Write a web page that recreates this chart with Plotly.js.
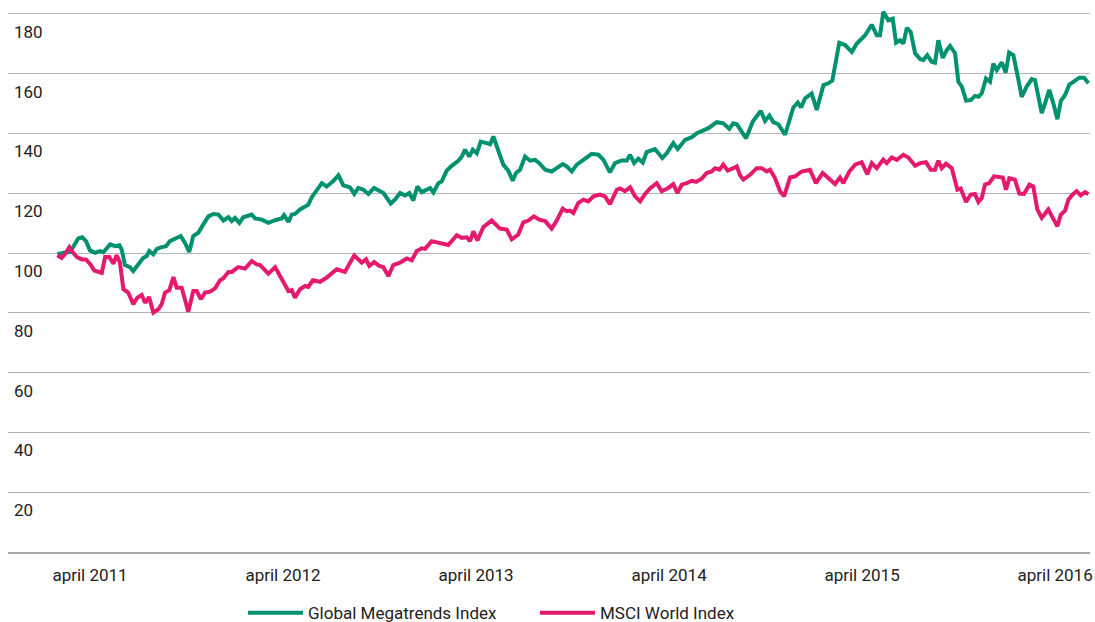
<!DOCTYPE html>
<html>
<head>
<meta charset="utf-8">
<script src="https://cdn.plot.ly/plotly-3.0.1.min.js"></script>
<style>
  html, body { margin: 0; padding: 0; background: #fff; }
  #chart { width: 1095px; height: 622px; }
</style>
</head>
<body>
<div id="chart"></div>
<script>
// Time expressed as decimal years (april 2011 = 2011.25)
const globalT = [2011.081,2011.112,2011.146,2011.172,2011.189,2011.210,2011.229,2011.250,2011.276,2011.302,2011.319,2011.354,2011.380,2011.402,2011.414,2011.431,2011.457,2011.474,2011.500,2011.526,2011.544,2011.557,2011.578,2011.596,2011.621,2011.644,2011.664,2011.696,2011.720,2011.742,2011.764,2011.785,2011.811,2011.837,2011.863,2011.889,2011.915,2011.941,2011.967,2011.984,2012.001,2012.024,2012.044,2012.088,2012.105,2012.140,2012.174,2012.209,2012.243,2012.255,2012.278,2012.295,2012.312,2012.338,2012.381,2012.399,2012.416,2012.451,2012.476,2012.509,2012.537,2012.562,2012.597,2012.619,2012.640,2012.666,2012.692,2012.722,2012.770,2012.808,2012.830,2012.856,2012.882,2012.904,2012.925,2012.946,2012.969,2012.995,2013.012,2013.029,2013.055,2013.072,2013.098,2013.124,2013.158,2013.176,2013.193,2013.215,2013.233,2013.254,2013.274,2013.305,2013.323,2013.340,2013.366,2013.391,2013.417,2013.440,2013.457,2013.478,2013.504,2013.530,2013.556,2013.578,2013.608,2013.642,2013.668,2013.699,2013.720,2013.746,2013.772,2013.806,2013.849,2013.884,2013.910,2013.944,2013.970,2014.005,2014.031,2014.048,2014.069,2014.091,2014.114,2014.134,2014.177,2014.215,2014.238,2014.272,2014.295,2014.333,2014.368,2014.394,2014.428,2014.454,2014.497,2014.531,2014.562,2014.583,2014.601,2014.618,2014.649,2014.684,2014.725,2014.747,2014.770,2014.790,2014.816,2014.851,2014.894,2014.917,2014.934,2014.955,2014.989,2015.015,2015.050,2015.075,2015.096,2015.132,2015.162,2015.197,2015.223,2015.266,2015.300,2015.326,2015.343,2015.360,2015.386,2015.409,2015.426,2015.447,2015.464,2015.482,2015.502,2015.525,2015.551,2015.568,2015.588,2015.611,2015.628,2015.645,2015.668,2015.689,2015.706,2015.732,2015.749,2015.767,2015.789,2015.813,2015.835,2015.853,2015.870,2015.892,2015.913,2015.930,2015.948,2015.974,2015.994,2016.012,2016.034,2016.057,2016.077,2016.103,2016.129,2016.146,2016.163,2016.181,2016.198,2016.220,2016.241,2016.262,2016.280,2016.302,2016.324,2016.348,2016.376,2016.400,2016.423];
const globalIdx = [99.6,100.1,100.3,102.9,104.9,105.3,104.0,100.9,100.1,100.7,100.3,102.9,102.3,102.6,101.2,96.0,95.3,94.0,96.2,98.4,99.0,100.7,99.6,101.4,102.0,102.3,104.0,104.8,105.7,103.4,100.4,105.7,106.8,109.6,112.3,113.1,112.9,110.9,112.0,110.7,111.8,110.1,112.0,112.9,111.6,111.2,110.1,111.0,111.6,112.7,110.4,112.9,113.1,114.6,116.2,118.7,120.1,123.4,122.3,124.0,126.0,122.7,122.0,119.8,121.8,121.2,119.8,121.8,120.1,116.6,117.9,120.1,119.3,120.1,117.6,122.3,120.4,121.2,121.8,120.3,123.4,124.0,127.6,129.2,130.9,132.3,134.6,132.3,134.6,133.4,137.3,136.8,136.4,139.0,134.0,129.6,127.6,124.2,126.8,127.9,132.3,130.9,131.2,130.1,127.9,127.3,128.4,129.8,129.0,127.3,129.6,131.2,133.2,132.9,131.2,127.0,130.1,131.0,131.0,132.9,130.1,131.6,130.3,133.8,134.8,131.8,133.4,136.8,134.8,137.9,138.8,140.1,140.9,141.8,143.8,143.4,141.6,143.4,143.1,141.2,138.4,144.0,147.6,144.2,146.0,143.8,143.1,139.6,148.7,150.4,148.7,151.8,153.4,147.9,156.2,156.8,157.7,170.4,169.6,167.3,170.1,172.9,176.4,172.9,172.9,180.7,177.9,178.4,170.4,171.2,170.1,175.3,174.0,166.8,164.9,164.6,166.2,164.0,163.7,171.2,165.3,167.9,169.3,166.8,157.3,155.7,151.0,151.2,152.6,152.3,153.4,158.4,157.3,163.4,161.2,163.8,160.4,167.1,166.2,159.0,152.3,155.7,158.2,157.9,151.8,146.8,150.1,154.6,150.1,144.8,150.9,152.9,156.4,157.6,158.7,158.7,156.8];

const msciT = [2011.081,2011.103,2011.120,2011.143,2011.163,2011.181,2011.207,2011.229,2011.250,2011.272,2011.311,2011.328,2011.350,2011.371,2011.388,2011.405,2011.423,2011.448,2011.474,2011.495,2011.518,2011.535,2011.556,2011.578,2011.604,2011.621,2011.639,2011.661,2011.682,2011.699,2011.725,2011.759,2011.785,2011.803,2011.824,2011.846,2011.872,2011.898,2011.924,2011.941,2011.967,2011.984,2012.018,2012.053,2012.088,2012.114,2012.131,2012.174,2012.209,2012.234,2012.260,2012.278,2012.295,2012.312,2012.338,2012.364,2012.381,2012.404,2012.442,2012.476,2012.528,2012.571,2012.597,2012.619,2012.658,2012.680,2012.697,2012.722,2012.749,2012.770,2012.796,2012.821,2012.856,2012.891,2012.917,2012.943,2012.969,2012.986,2013.020,2013.055,2013.106,2013.150,2013.176,2013.202,2013.219,2013.236,2013.257,2013.288,2013.331,2013.374,2013.409,2013.435,2013.469,2013.495,2013.521,2013.550,2013.578,2013.608,2013.642,2013.668,2013.699,2013.720,2013.737,2013.754,2013.780,2013.806,2013.832,2013.858,2013.892,2013.918,2013.944,2013.979,2013.996,2014.022,2014.048,2014.074,2014.100,2014.126,2014.151,2014.186,2014.212,2014.246,2014.272,2014.293,2014.316,2014.342,2014.368,2014.390,2014.419,2014.445,2014.471,2014.488,2014.511,2014.531,2014.554,2014.583,2014.601,2014.618,2014.635,2014.670,2014.704,2014.730,2014.756,2014.773,2014.799,2014.825,2014.846,2014.877,2014.903,2014.937,2014.980,2015.011,2015.046,2015.075,2015.110,2015.136,2015.153,2015.184,2015.214,2015.248,2015.277,2015.300,2015.326,2015.360,2015.378,2015.404,2015.430,2015.464,2015.490,2015.525,2015.551,2015.581,2015.606,2015.628,2015.645,2015.663,2015.685,2015.715,2015.744,2015.761,2015.789,2015.813,2015.835,2015.853,2015.870,2015.887,2015.909,2015.934,2015.961,2015.979,2015.996,2016.013,2016.042,2016.065,2016.089,2016.117,2016.137,2016.158,2016.181,2016.215,2016.238,2016.262,2016.280,2016.302,2016.319,2016.341,2016.362,2016.383,2016.405,2016.423];
const msciIdx = [99.3,98.4,99.6,102.0,100.1,98.7,97.9,97.9,96.4,94.2,93.4,98.7,98.7,96.4,99.3,96.8,87.9,86.8,82.9,85.1,86.0,83.4,85.3,80.1,81.2,82.9,86.8,87.6,92.0,88.4,88.4,80.4,87.3,87.3,84.6,86.8,87.1,88.2,90.9,91.6,93.7,93.7,95.3,94.8,97.3,96.2,96.0,93.1,95.3,92.3,89.6,87.3,87.6,85.1,87.9,89.0,88.7,90.9,90.4,91.8,94.6,93.7,96.8,99.2,96.8,97.9,95.7,97.0,95.7,95.3,92.3,96.0,96.8,98.2,97.6,100.7,101.6,101.4,104.0,103.4,102.7,106.0,105.1,105.3,104.0,107.3,104.2,108.7,110.9,108.2,107.9,104.6,106.2,110.3,110.9,112.3,111.2,110.7,108.2,110.9,114.9,114.0,114.2,113.4,116.8,117.9,117.3,119.0,119.6,119.0,116.4,121.2,121.6,120.7,122.0,119.0,117.3,119.8,121.6,123.4,120.7,121.8,123.1,120.1,122.9,123.4,124.2,123.8,124.9,126.8,127.3,128.4,127.9,129.6,127.6,128.4,129.0,126.0,124.6,126.2,128.4,128.4,127.3,127.9,125.1,120.7,119.0,125.3,125.7,127.3,127.9,123.4,126.8,125.1,123.1,125.3,123.4,127.3,129.6,130.4,126.4,130.1,128.4,131.3,130.1,132.0,131.2,132.9,132.0,129.2,130.1,130.4,127.9,127.9,130.9,128.4,129.9,128.4,121.2,121.6,117.1,119.6,119.8,117.1,118.4,122.9,123.4,125.7,125.3,125.3,121.2,125.1,124.6,119.9,119.8,122.9,122.3,114.6,111.8,114.6,111.8,109.0,112.9,114.2,117.9,119.6,120.7,119.3,120.4,119.8];

const seriesNames = ['Global Megatrends Index', 'MSCI World Index'];
const seriesColors = ['#00926f', '#e5196e'];
const xTickVals = [2011.25, 2012.25, 2013.25, 2014.25, 2015.25, 2016.25];
const xTickText = ['april 2011', 'april 2012', 'april 2013', 'april 2014', 'april 2015', 'april 2016'];
const yTickVals = [20, 40, 60, 80, 100, 120, 140, 160, 180];

const traces = [
  { x: globalT, y: globalIdx, name: seriesNames[0], type: 'scatter', mode: 'lines',
    line: { color: seriesColors[0], width: 4 }, hoverinfo: 'skip' },
  { x: msciT, y: msciIdx, name: seriesNames[1], type: 'scatter', mode: 'lines',
    line: { color: seriesColors[1], width: 4 }, hoverinfo: 'skip' }
];

const layout = {
  width: 1095, height: 622,
  margin: { l: 8, r: 5, t: 8, b: 70, autoexpand: false },
  paper_bgcolor: '#ffffff', plot_bgcolor: '#ffffff',
  font: { family: 'Roboto, "Open Sans", sans-serif', size: 17, color: '#222222' },
  showlegend: true,
  legend: {
    orientation: 'h', xref: 'container', yref: 'container',
    x: 0.4886, xanchor: 'center', y: 0.014, yanchor: 'middle',
    itemwidth: 55, entrywidth: 222,
    font: { size: 17, color: '#222222' }, bgcolor: 'rgba(0,0,0,0)'
  },
  xaxis: {
    range: [2010.825, 2016.431], tickmode: 'array', tickvals: xTickVals, ticktext: xTickText,
    showgrid: false, zeroline: false, showline: true, linecolor: '#a8a8a8', linewidth: 2,
    ticks: '', ticklabelstandoff: 7, tickfont: { size: 17, color: '#222222' }
  },
  yaxis: {
    range: [0, 182], tickmode: 'array', tickvals: yTickVals,
    showgrid: true, gridcolor: '#b4b4b4', gridwidth: 1, zeroline: false, showline: false,
    ticks: '', ticklabelposition: 'inside bottom', ticklabelstandoff: 3, ticklabelshift: 6,
    tickfont: { size: 17, color: '#222222' }
  },
  hovermode: false
};

Plotly.newPlot('chart', traces, layout, { displayModeBar: false, staticPlot: true });
</script>
</body>
</html>
